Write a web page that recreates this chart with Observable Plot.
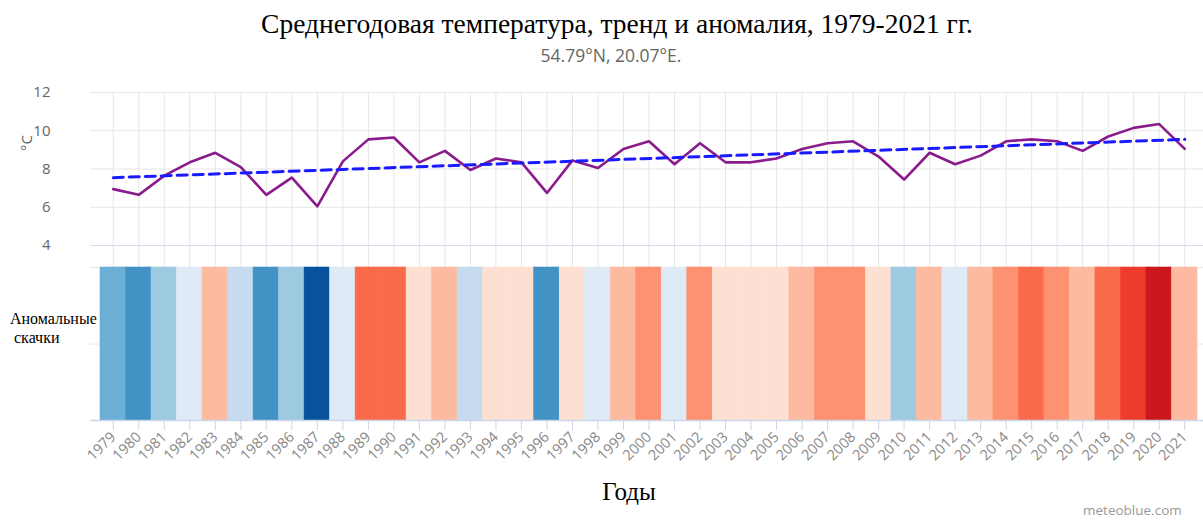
<!DOCTYPE html>
<html><head><meta charset="utf-8">
<script src="https://cdn.jsdelivr.net/npm/d3@7"></script>
<script src="https://cdn.jsdelivr.net/npm/@observablehq/plot@0.6"></script>
<style>
body{margin:0;background:#fff;}
#root{position:relative;width:1203px;height:520px;overflow:hidden;font-family:"Open Sans",sans-serif;}
.abs{position:absolute;white-space:nowrap;}
#title{left:617px;top:10px;transform:translateX(-50%);font-family:"Liberation Serif",serif;font-size:27.5px;line-height:27px;color:#000;}
#subtitle{left:611px;top:46px;transform:translateX(-50%);font-size:17.5px;line-height:18px;color:#666;}
#unit{left:26px;top:143px;transform:translate(-50%,-50%) rotate(-90deg);font-size:15px;line-height:15px;color:#666;}
#anom{left:10px;top:309px;font-family:"Liberation Serif",serif;font-size:16px;line-height:19px;color:#000;}
#xlab{left:629px;top:479px;transform:translateX(-50%);font-family:"Liberation Serif",serif;font-size:25px;line-height:25px;color:#000;}
#credit{left:1083px;top:503px;font-size:13.5px;line-height:14px;color:#999;}
#topchart{left:0;top:80px;}
#botchart{left:0;top:267px;}
</style></head><body>
<div id="root">
  <div id="title" class="abs">Среднегодовая температура, тренд и аномалия, 1979-2021 гг.</div>
  <div id="subtitle" class="abs">54.79°N, 20.07°E.</div>
  <div id="unit" class="abs">°C</div>
  <div id="anom" class="abs">Аномальные<br>&nbsp;скачки</div>
  <div id="xlab" class="abs">Годы</div>
  <div id="credit" class="abs">meteoblue.com</div>
  <div id="topchart" class="abs"></div>
  <div id="botchart" class="abs"></div>
</div>
<script>
const years = [1979,1980,1981,1982,1983,1984,1985,1986,1987,1988,1989,1990,1991,1992,1993,1994,1995,1996,1997,1998,1999,2000,2001,2002,2003,2004,2005,2006,2007,2008,2009,2010,2011,2012,2013,2014,2015,2016,2017,2018,2019,2020,2021];
const temps = [6.95,6.65,7.65,8.35,8.85,8.1,6.65,7.55,6.05,8.4,9.55,9.65,8.35,8.95,7.95,8.55,8.35,6.75,8.45,8.05,9.05,9.45,8.25,9.35,8.35,8.35,8.55,9.05,9.35,9.45,8.65,7.45,8.85,8.25,8.7,9.45,9.55,9.45,8.95,9.7,10.15,10.35,9.05];
const trendYears = [1979, 2021];
const trendValues = [7.55, 9.55];
// anomaly class per year: negative = colder (blues), positive = warmer (reds)
const anomalyLevels = [-4,-5,-3,-1,2,-2,-5,-3,-7,-1,4,4,1,2,-2,1,1,-5,1,-1,2,3,-1,3,1,1,1,2,3,3,1,-3,2,-1,2,3,4,3,2,4,5,6,2];
const levelDomain = [-7,-6,-5,-4,-3,-2,-1,1,2,3,4,5,6];
const yTicks = [4,6,8,10,12];

const rows = years.map((year, i) => ({year, temp: temps[i], level: anomalyLevels[i]}));
const trendRows = trendYears.map((year, i) => ({year, value: trendValues[i]}));

const topChart = Plot.plot({
  width: 1203, height: 188,
  marginTop: 12, marginBottom: 0, marginLeft: 90, marginRight: 0,
  style: {fontFamily: "Open Sans, sans-serif", fontSize: "15px", background: "transparent", overflow: "visible"},
  x: {type: "point", domain: years, range: [100, 1197], padding: 0.5, round: false, axis: null},
  y: {domain: [2.8, 12], axis: null},
  marks: [
    Plot.ruleX(years, {stroke: "#e6e6e6", strokeWidth: 1, strokeOpacity: 1}),
    Plot.ruleY(yTicks.filter(d => d !== 4), {stroke: "#e6e6e6", strokeOpacity: 1}),
    Plot.ruleY([4], {stroke: "#d4daf0", strokeOpacity: 1}),
    Plot.axisY({ticks: yTicks, tickSize: 0, tickPadding: 40, fill: "#666", label: null}),
    Plot.line(rows, {x: "year", y: "temp", stroke: "#8a1b8c", strokeWidth: 2.6}),
    Plot.line(trendRows, {x: "year", y: "value", stroke: "#1a1aff", strokeWidth: 3, strokeDasharray: "10,6"})
  ]
});
document.getElementById("topchart").appendChild(topChart);

const botChart = Plot.plot({
  width: 1203, height: 253,
  marginTop: 0, marginBottom: 100, marginLeft: 90, marginRight: 0,
  style: {fontFamily: "Open Sans, sans-serif", fontSize: "14.5px", background: "transparent", overflow: "visible"},
  x: {type: "band", domain: years, range: [100, 1197], padding: 0, round: false},
  y: {domain: [0, 2], axis: null},
  color: {type: "ordinal", domain: levelDomain,
    range: ["#08519c","#2171b5","#4292c6","#6baed6","#9ecae1","#c6dbef","#deebf7","#fee0d2","#fcbba1","#fc9272","#fb6a4a","#ef3b2c","#cb181d"]},
  marks: [
    Plot.ruleY([1, 2], {stroke: "#e6e6e6", strokeOpacity: 1}),
    Plot.cell(rows, {x: "year", fill: "level", stroke: "level", strokeWidth: 0.6, inset: 0}),
    Plot.ruleY([0], {stroke: "#ccd6eb", strokeOpacity: 1, strokeWidth: 1.5}),
    Plot.axisX({tickSize: 10, tickPadding: 4, tickRotate: -45, stroke: "#ccd6eb", strokeOpacity: 1, fill: "#888", tickFormat: d => `${d}`, label: null})
  ]
});
document.getElementById("botchart").appendChild(botChart);
</script>
</body></html>
